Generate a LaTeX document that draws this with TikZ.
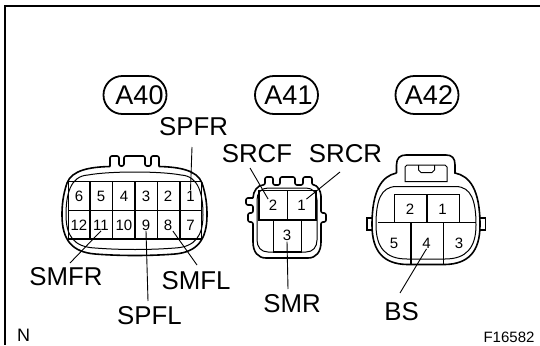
\documentclass[tikz,border=0pt]{standalone}
\usepackage{fontspec}
\setmainfont{Liberation Sans}
\tikzset{
  x=1pt, y=-1pt,
  biglabel/.style={inner sep=0pt, font=\fontsize{25.8}{26}\selectfont},
  pin/.style={inner sep=0.5pt, font=\fontsize{15}{15}\selectfont},
  badge/.style={draw, line width=1.8pt, rounded corners=18.9pt, minimum width=63pt, minimum height=38pt, inner sep=0pt, font=\fontsize{27}{27}\selectfont},
  frameline/.style={line width=2.2pt},
  shell/.style={line width=1.6pt, rounded corners=2pt},
  liner/.style={line width=1pt},
  cell/.style={line width=1.5pt},
  leader/.style={line width=0.9pt}
}
\begin{document}
\begin{tikzpicture}
\useasboundingbox (0,0) rectangle (540,345);
\draw[frameline] (540,6) -- (5,6) -- (5,345);

\node[badge] (A40) at (135,95) {\hspace{9pt}A40};
\node[badge] (A41) at (286.5,95) {\hspace{4pt}A41};
\node[badge] (A42) at (427,95) {\hspace{4pt}A42};

% connector A40
\draw[shell] (110,166.5) -- (110,156) -- (119,156) -- (119,166) -- (124,166) -- (124,156) -- (145,156) -- (145,166) -- (151,166) -- (151,156) -- (159,156) -- (159,166.5);
\draw[line width=1.6pt] (110,166.5) .. controls (90,167) and (72,170) .. (67,183) .. controls (63,195) and (62,205) .. (62,215) .. controls (62,240) and (72,252) .. (95,254) .. controls (120,256) and (150,256) .. (175,254) .. controls (197,252) and (207,240) .. (207,215) .. controls (207,205) and (206,195) .. (202,183) .. controls (197,170) and (179,167) .. (159,166.5);
\draw[liner] (66,215) .. controls (66,195) and (70,176) .. (88,175) .. controls (110,171) and (160,171) .. (181,175) .. controls (199,176) and (203,195) .. (203,215) .. controls (203,236) and (195,247) .. (175,248) .. controls (150,250) and (120,250) .. (95,248) .. controls (74,247) and (66,236) .. (66,215);
\draw[cell] (68.5,239) -- (68.5,181.5) -- (201.5,181.5) -- (201.5,239) -- cycle;
\draw[cell] (68.5,210.5) -- (201.5,210.5);
\draw[cell] (90,181.5) -- (90,239);
\draw[cell] (112.5,181.5) -- (112.5,239);
\draw[cell] (135,181.5) -- (135,239);
\draw[cell] (157.5,181.5) -- (157.5,239);
\draw[cell] (180,181.5) -- (180,239);
\node[pin] (p40a) at (79,196) {6};
\node[pin] (p40b) at (101,196) {5};
\node[pin] (p40c) at (124,196) {4};
\node[pin] (p40d) at (146,196) {3};
\node[pin] (p40e) at (168,196) {2};
\node[pin] (p40f) at (190.5,196) {1};
\node[pin] (p40g) at (79,225) {12};
\node[pin] (p40h) at (101,225) {11};
\node[pin] (p40i) at (124,225) {10};
\node[pin] (p40j) at (146,225) {9};
\node[pin] (p40k) at (168,225) {8};
\node[pin] (p40l) at (190.5,225) {7};

% connector A41
\draw[shell] (253,198) -- (246,198) -- (246,205) -- (253,205) -- (253,213) -- (248,213) -- (248,222) -- (253,222) -- (253,240) .. controls (253,252) and (258,258) .. (268,258) -- (306,258) .. controls (316,258) and (321,252) .. (321,240) -- (321,222) -- (326,222) -- (326,213) -- (321,213) -- (321,198) .. controls (321,191) and (317,185) .. (312,185) -- (312,177) -- (303,177) -- (303,185) -- (295,185) -- (295,177) -- (280,177) -- (280,185) -- (273,185) -- (273,177) -- (265,177) -- (265,185) .. controls (258,185) and (253,191) .. (253,198);
\draw[liner] (257,240) -- (257,200) .. controls (257,193) and (261,188) .. (268,188) -- (306,188) .. controls (313,188) and (317,193) .. (317,200) -- (317,240) .. controls (317,247) and (313,252) .. (306,252) -- (268,252) .. controls (261,252) and (257,247) .. (257,240);
\draw[cell] (259,220) -- (259,190.5) -- (316,190.5) -- (316,220) -- cycle;
\draw[cell] (287.5,190.5) -- (287.5,220);
\draw[cell] (273.5,220) -- (273.5,252) -- (301.5,252) -- (301.5,220);
\node[pin] (p41a) at (273,205) {2};
\node[pin] (p41b) at (301.5,205) {1};
\node[pin] (p41c) at (287,235.5) {3};

% connector A42
\draw[line width=1.6pt] (372,218) -- (367,218) -- (367,230) -- (372,230);
\draw[line width=1.6pt] (480,218) -- (485.5,218) -- (485.5,230) -- (480,230);
\draw[line width=1.6pt] (396.5,173) -- (396.5,165) .. controls (396.5,158) and (400,155) .. (406,155) -- (446,155) .. controls (452,155) and (455,158) .. (455,165) -- (455,173) .. controls (470,176) and (480,190) .. (480,225) .. controls (480,252) and (468,264) .. (445,264.5) -- (407,264.5) .. controls (384,264) and (372,252) .. (372,225) .. controls (372,190) and (382,176) .. (396.5,173);
\draw[liner] (376,225) .. controls (376,200) and (381,187) .. (396,186.5) -- (456,186.5) .. controls (471,187) and (476,200) .. (476,225) .. controls (476,248) and (466,259) .. (445,259) -- (407,259) .. controls (386,259) and (376,248) .. (376,225);
\draw[liner] (405,181.5) -- (405,167) -- (407,165) -- (445,165) -- (447,167) -- (447,181.5) -- cycle;
\draw[liner] (418.5,165) -- (418.5,170) -- (421,172.5) -- (432,172.5) -- (434.5,170) -- (434.5,165);
\draw[cell] (394.5,222.5) -- (394.5,194.5) -- (459.5,194.5) -- (459.5,222.5);
\draw[cell] (427,194.5) -- (427,222.5);
\draw[cell] (378,222.5) -- (476,222.5);
\draw[cell] (411,222.5) -- (411,263.5);
\draw[cell] (443.5,222.5) -- (443.5,263.5);
\node[pin] (p42a) at (410,209) {2};
\node[pin] (p42b) at (442.5,209) {1};
\node[pin] (p42c) at (394,243) {5};
\node[pin] (p42d) at (426.5,243) {4};
\node[pin] (p42e) at (459,243) {3};

\node[biglabel] (SPFR) at (193.5,127) {SPFR};
\node[biglabel] (SRCF) at (257,154) {SRCF};
\node[biglabel] (SRCR) at (345.5,154) {SRCR};
\node[biglabel] (SMFR) at (66,277) {SMFR};
\node[biglabel] (SMFL) at (196,281) {SMFL};
\node[biglabel] (SPFL) at (149.5,316) {SPFL};
\node[biglabel] (SMR) at (292,304) {SMR};
\node[biglabel] (BS) at (401.5,312) {BS};
\node[inner sep=0pt, font=\fontsize{18}{18}\selectfont] (N) at (23.5,335) {N};
\node[inner sep=0pt, font=\fontsize{15}{15}\selectfont] (F16582) at (509,337) {F16582};

\coordinate (SPFR_e) at (192,147);
\coordinate (SRCF_e) at (250,168);
\coordinate (SRCR_e) at (340,172);
\coordinate (SMFR_e) at (70,263);
\coordinate (SMFL_e) at (197,265);
\coordinate (SPFL_e) at (148,301);
\coordinate (SMR_e) at (288,289);
\coordinate (BS_e) at (400,293);
\draw[leader] (SPFR_e) -- (p40f.north);
\draw[leader] (SRCF_e) -- (p41a.north west);
\draw[leader] (SRCR_e) -- (p41b.north east);
\draw[leader] (SMFR_e) -- (p40h.south);
\draw[leader] (SMFL_e) -- (p40k.south east);
\draw[leader] (SPFL_e) -- (p40j.south);
\draw[leader] (SMR_e) -- (p41c.south);
\draw[leader] (BS_e) -- (p42d.south);
\end{tikzpicture}
\end{document}
